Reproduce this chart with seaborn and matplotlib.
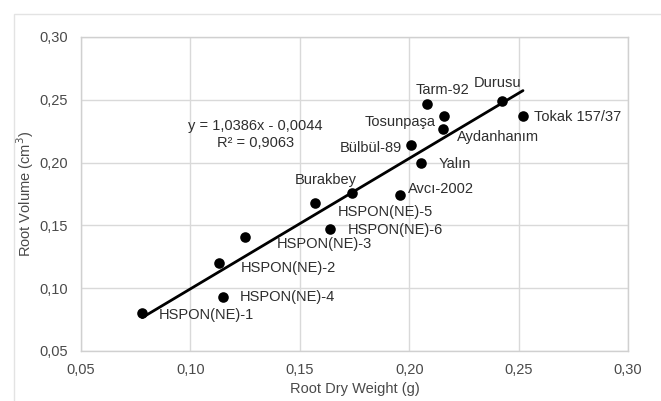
import numpy as np
import pandas as pd
import matplotlib
matplotlib.use("Agg")
import matplotlib.pyplot as plt
from matplotlib.patches import Rectangle
import seaborn as sns

# cultivar values
cultivars = ["HSPON(NE)-1", "HSPON(NE)-4", "HSPON(NE)-2", "HSPON(NE)-3", "HSPON(NE)-6",
             "Burakbey", "HSPON(NE)-5", "Avcı-2002", "Yalın", "Bülbül-89",
             "Aydanhanım", "Tosunpaşa", "Tarm-92", "Durusu", "Tokak 157/37"]
dry_weight = [0.078, 0.115, 0.113, 0.125, 0.164,
              0.157, 0.174, 0.196, 0.2055, 0.201,
              0.2155, 0.216, 0.208, 0.2425, 0.252]
root_volume = [0.080, 0.093, 0.120, 0.141, 0.147,
               0.168, 0.176, 0.174, 0.200, 0.214,
               0.227, 0.237, 0.247, 0.249, 0.237]

# trendline from the chart
slope = 1.0386
intercept = -0.0044
r2 = 0.9063

df = pd.DataFrame({"cultivar": cultivars, "x": dry_weight, "y": root_volume})

# label offsets in pixels (dx, dy, ha)
offsets = {
    "HSPON(NE)-1": (16, -2, "left"),
    "HSPON(NE)-4": (17, 0, "left"),
    "HSPON(NE)-2": (22, -5, "left"),
    "HSPON(NE)-3": (32, -7, "left"),
    "HSPON(NE)-6": (17, -1, "left"),
    "Burakbey": (-20, 23, "left"),
    "HSPON(NE)-5": (-15, -19, "left"),
    "Avcı-2002": (8, 6, "left"),
    "Yalın": (17, -1, "left"),
    "Bülbül-89": (-9, -3, "right"),
    "Aydanhanım": (14, -8, "left"),
    "Tosunpaşa": (-9, -6, "right"),
    "Tarm-92": (-11, 14, "left"),
    "Durusu": (-28, 18, "left"),
    "Tokak 157/37": (11, -1, "left"),
}

sns.set_style("white")
plt.rcParams["font.family"] = ["Liberation Sans", "DejaVu Sans"]

fig = plt.figure(figsize=(6.61, 4.01), dpi=100)
ax = fig.add_axes([81 / 661, 1 - 351 / 401, (628 - 81) / 661, (351 - 37) / 401])

# outer chart border
fig.patches.append(Rectangle((14 / 661, -0.1), 1.2, 1 - 14 / 401 + 0.1,
                             transform=fig.transFigure, fill=False,
                             edgecolor="#e3e3e3", linewidth=1.0))

fit_x = np.array([min(dry_weight), max(dry_weight)])
fit = pd.DataFrame({"x": fit_x, "y": slope * fit_x + intercept})
sns.lineplot(data=fit, x="x", y="y", color="black", linewidth=2.0, ax=ax, zorder=2)
sns.scatterplot(data=df, x="x", y="y", color="black", s=58, edgecolor="black",
                linewidth=0, ax=ax, zorder=3)

for name, px, py in zip(cultivars, dry_weight, root_volume):
    dx, dy, ha = offsets[name]
    ax.annotate(name, (px, py), xytext=(dx, dy), textcoords="offset pixels",
                ha=ha, va="center", fontsize=10.5, color="#2e2e2e")

ax.text(0.1298, 0.2294, f"y = {slope:.4f}x - {abs(intercept):.4f}".replace(".", ","),
        ha="center", va="center", fontsize=10.5, color="#2e2e2e")
ax.text(0.1298, 0.2159, f"R² = {r2:.4f}".replace(".", ","),
        ha="center", va="center", fontsize=10.5, color="#2e2e2e")

ax.set_xlim(0.05, 0.30)
ax.set_ylim(0.05, 0.30)
ticks = [0.05, 0.10, 0.15, 0.20, 0.25, 0.30]
ax.set_xticks(ticks)
ax.set_yticks(ticks)
ax.set_xticklabels([f"{t:.2f}".replace(".", ",") for t in ticks])
ax.set_yticklabels([f"{t:.2f}".replace(".", ",") for t in ticks])
ax.tick_params(length=0, labelsize=10.5, labelcolor="#4a4a4a")
ax.tick_params(axis="x", pad=8.5)
ax.tick_params(axis="y", pad=9.5)

ax.grid(True, color="#d9d9d9", linewidth=1.0)
ax.set_axisbelow(True)
for sp in ax.spines.values():
    sp.set_color("#d0d0d0")
    sp.set_linewidth(1.0)

ax.set_xlabel("Root Dry Weight (g)", fontsize=10.5, color="#4a4a4a", labelpad=4)
ax.set_ylabel("Root Volume (cm$^3$)", fontsize=10.5, color="#4a4a4a", labelpad=2)

fig.savefig("out.png", dpi=100)
